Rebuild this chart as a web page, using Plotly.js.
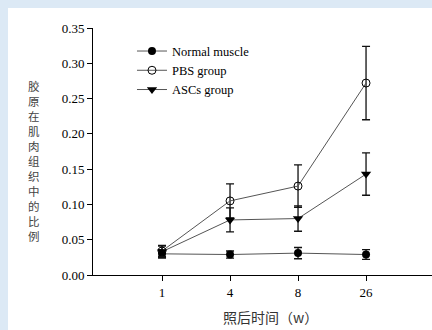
<!DOCTYPE html>
<html>
<head>
<meta charset="utf-8">
<script src="https://cdn.plot.ly/plotly-3.0.1.min.js"></script>
<style>
html,body{margin:0;padding:0;background:#ffffff;}
#frame{position:absolute;left:0;top:0;width:432px;height:330px;background:#dce9f5;}
#chart{position:absolute;left:8px;top:8px;width:424px;height:322px;background:#fff;}
</style>
</head>
<body>
<div id="frame"></div>
<div id="chart"></div>
<script>
const categories = ["1", "4", "8", "26"];
const normalMuscle = [0.030, 0.029, 0.031, 0.029];
const normalErr = [0.006, 0.005, 0.008, 0.007];
const pbsGroup = [0.034, 0.105, 0.126, 0.272];
const pbsErr = [0.008, 0.024, 0.030, 0.052];
const ascsGroup = [0.033, 0.078, 0.080, 0.143];
const ascsErr = [0.008, 0.017, 0.018, 0.030];
const sigMarks = ["", "#", "#", "#"];
const yTitle = "胶原在肌肉组织中的比例";
const xTitle = "照后时间（w）";

const serif = "Liberation Serif, Times New Roman, serif";
const cjk = "Noto Sans CJK SC, sans-serif";

function errBar(arr) {
  return {type: "data", array: arr, visible: true, color: "#111", thickness: 1.3, width: 4};
}

const traces = [
  {x: categories, y: normalMuscle, name: "Normal muscle", type: "scatter", mode: "lines+markers",
   line: {color: "#555", width: 1}, marker: {symbol: "circle", size: 8, color: "#000"},
   error_y: errBar(normalErr)},
  {x: categories, y: pbsGroup, name: "PBS group", type: "scatter", mode: "lines+markers",
   line: {color: "#555", width: 1}, marker: {symbol: "circle-open", size: 8, color: "#000", line: {width: 1}},
   error_y: errBar(pbsErr)},
  {x: categories, y: ascsGroup, name: "ASCs group", type: "scatter", mode: "lines+markers",
   line: {color: "#555", width: 1}, marker: {symbol: "triangle-down", size: 9, color: "#000"},
   error_y: errBar(ascsErr)}
];

const annotations = [];
// vertical Chinese y-axis title, one character per line
annotations.push({text: Array.from(yTitle).join("<br>"), xref: "paper", yref: "paper",
  x: 0, y: 0.4615, xshift: -59, showarrow: false, xanchor: "center", yanchor: "middle",
  align: "center", font: {family: cjk, size: 11.5, color: "#444"}});
// x-axis title
annotations.push({text: xTitle, xref: "paper", yref: "paper", x: 0.5, y: 0,
  xshift: 7.5, yshift: -42, showarrow: false, xanchor: "center", yanchor: "middle",
  font: {family: cjk, size: 14, color: "#333"}});
// significance marks
categories.forEach((c, i) => {
  if (sigMarks[i]) {
    annotations.push({text: sigMarks[i], x: c, y: ascsGroup[i] - ascsErr[i], xref: "x", yref: "y",
      showarrow: false, xanchor: "left", yanchor: "middle", xshift: 6, yshift: -2,
      font: {family: serif, size: 10, color: "#6a7f99"}});
  }
});

const layout = {
  width: 424, height: 322,
  margin: {l: 85, r: 0, t: 20, b: 55},
  paper_bgcolor: "#ffffff", plot_bgcolor: "#ffffff",
  showlegend: true,
  legend: {x: 0.115, y: 0.966, xanchor: "left", yanchor: "top", bgcolor: "rgba(0,0,0,0)",
    font: {family: serif, size: 12.5, color: "#000"}, tracegroupgap: 0, itemwidth: 30},
  xaxis: {
    type: "category", range: [-1.015, 3.97],
    showline: true, linecolor: "#000", linewidth: 1,
    ticks: "outside", ticklen: 5, tickcolor: "#000",
    showgrid: false, zeroline: false,
    tickfont: {family: serif, size: 13, color: "#000"}
  },
  yaxis: {
    range: [0, 0.35], dtick: 0.05, tickformat: ".2f",
    showline: true, linecolor: "#000", linewidth: 1,
    ticks: "outside", ticklen: 5, tickcolor: "#000",
    showgrid: false, zeroline: false,
    tickfont: {family: serif, size: 13, color: "#000"}
  },
  annotations: annotations
};

Plotly.newPlot("chart", traces, layout, {displayModeBar: false, staticPlot: true});
</script>
</body>
</html>
